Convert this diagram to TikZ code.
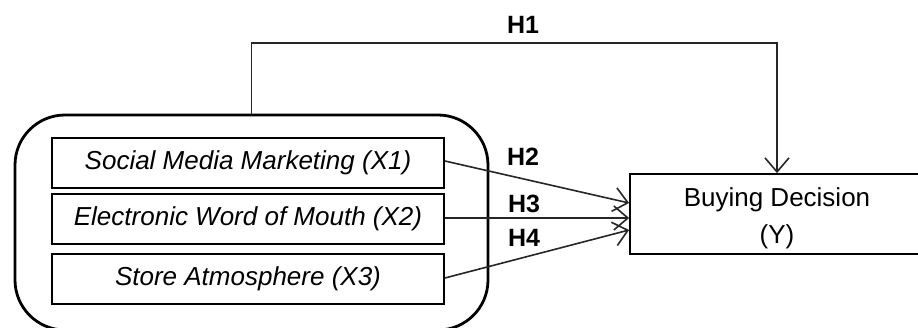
\documentclass[tikz,border=0pt]{standalone}
\usepackage{fontspec}
\setmainfont{Liberation Sans}
\usetikzlibrary{arrows.meta,calc}
\begin{document}
\begin{tikzpicture}[x=1pt,y=-1pt,
  varbox/.style={draw=black,line width=1.8pt,minimum width=392pt,minimum height=50pt,inner sep=0pt,
    font=\fontsize{26}{30}\selectfont\itshape},
  depbox/.style={draw=black,line width=1.8pt,minimum width=294pt,minimum height=80pt,inner sep=0pt},
  deptext/.style={align=center,inner sep=0pt,font=\fontsize{26}{37}\selectfont},
  groupbox/.style={draw=black,line width=2.8pt,rounded corners=50pt,minimum width=473pt,minimum height=215pt,inner sep=0pt},
  link/.style={draw=black!85,line width=1.6pt,-{Straight Barb[length=14pt,width=24pt,line width=1.6pt]}},
  hlabel/.style={font=\fontsize{25}{30}\selectfont\bfseries,inner sep=0pt}]
\useasboundingbox (0,0) rectangle (918,327);
\clip (0,0) rectangle (918,327);
\fill[white] (0,0) rectangle (918,327);
\node[groupbox] (outer) at (251.5,222.5) {};
\node[varbox] (x1) at (248,163) {Social Media Marketing (X1)};
\node[varbox] (x2) at (248,219) {Electronic Word of Mouth (X2)};
\node[varbox] (x3) at (248,279) {Store Atmosphere (X3)};
\node[depbox] (yb) at (777,214) {};
\node[deptext] (yt) at (777,218) {Buying Decision\\(Y)};
\coordinate (h1c) at (0,43);
\draw[link] (outer.north) -- (outer.north |- h1c) -| (yb.north);
\draw[link] ([yshift=2pt]x1.east) -- ([yshift=11pt]yb.west);
\draw[link] ([yshift=1pt]x2.east) -- ([yshift=-4pt]yb.west);
\draw[link] ([yshift=1pt]x3.east) -- ([yshift=-16pt]yb.west);
\node[hlabel] (h1) at (523,25) {H1};
\node[hlabel] (h2) at (523,157) {H2};
\node[hlabel] (h3) at (524,204) {H3};
\node[hlabel] (h4) at (524,238) {H4};
\end{tikzpicture}
\end{document}
